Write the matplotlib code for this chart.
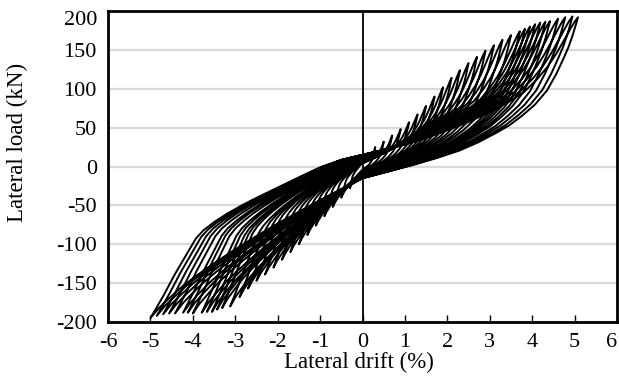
"""Hysteresis curves: lateral load vs lateral drift."""
import matplotlib
matplotlib.use("Agg")
import matplotlib.pyplot as plt
import numpy as np

# peak drift (%) and peak load (kN) of each cycle
pos_peak_drift = [0.3, 0.5, 0.7, 0.9, 1.1, 1.3, 1.5, 1.7, 1.9, 2.1, 2.3, 2.5, 2.7, 2.9,
                  3.1, 3.3, 3.5, 3.71, 3.83, 3.95, 4.07, 4.19, 4.31, 4.42, 4.61, 4.78, 4.95, 5.08]
pos_peak_load = [25, 32, 40, 48, 57, 67, 78, 90, 102, 114, 124, 133, 141, 149,
                 156, 163, 169, 174, 177, 180, 183, 185, 186, 187, 190, 192, 193, 192]
neg_peak_drift = [-0.3, -0.5, -0.7, -0.9, -1.1, -1.3, -1.5, -1.7, -1.9, -2.1, -2.3, -2.5, -2.7, -2.9,
                  -3.12, -3.31, -3.43, -3.55, -3.67, -3.79, -4.0, -4.12, -4.23, -4.42, -4.56, -4.7, -4.85, -5.0]
neg_peak_load = [-28, -40, -52, -64, -76, -88, -100, -110, -120, -130, -139, -147, -157, -168,
                 -180, -182, -184, -187, -187, -188, -189, -188, -188, -189, -189, -190, -192, -195]
# load where the curves cross zero drift (kN)
crossing_load = [4, 5, 5, 6, 6, 7, 7, 8, 8, 9, 9, 10, 10, 11,
                 11, 12, 12, 12, 13, 13, 13, 14, 14, 14, 15, 15, 15, 15]

# branch shapes as fractions of the cycle peak (drift fraction, load fraction)
load_pos_x = [0, 0.1, 0.2, 0.3, 0.4, 0.5, 0.6, 0.68, 0.75, 0.81, 0.86, 0.9, 0.935, 0.965, 0.985, 1.0]
load_pos_y = [0, 0.04, 0.085, 0.14, 0.2, 0.265, 0.34, 0.41, 0.48, 0.57, 0.66, 0.75, 0.84, 0.92, 0.97, 1.0]
unload_pos_x = [1.0, 0.99, 0.975, 0.955, 0.93, 0.9, 0.856, 0.8, 0.74, 0.68, 0.62, 0.54, 0.45,
                0.35, 0.25, 0.12, 0]
unload_pos_y = [1.0, 0.95, 0.88, 0.8, 0.72, 0.63, 0.52, 0.43, 0.36, 0.3, 0.255, 0.2, 0.15,
                0.11, 0.075, 0.035, 0]
load_neg_x = [0, 0.1, 0.2, 0.3, 0.4, 0.5, 0.6, 0.7, 0.78, 0.85, 0.91, 0.96, 1.0]
load_neg_y = [0, 0.08, 0.16, 0.245, 0.33, 0.42, 0.515, 0.615, 0.7, 0.78, 0.86, 0.93, 1.0]
unload_neg_x = [1.0, 0.94, 0.885, 0.82, 0.785, 0.75, 0.7, 0.64, 0.57, 0.5, 0.4, 0.3, 0.2, 0.1, 0]
unload_neg_y = [1.0, 0.86, 0.72, 0.57, 0.49, 0.44, 0.39, 0.34, 0.29, 0.245, 0.185, 0.125,
                0.067, 0.025, 0]

x_ticks = [-6, -5, -4, -3, -2, -1, 0, 1, 2, 3, 4, 5, 6]
y_ticks = [-200, -150, -100, -50, 0, 50, 100, 150, 200]


def branch(fx, fy, peak_d, peak_f, offset):
    fx = np.asarray(fx)
    fy = np.asarray(fy)
    return peak_d * fx, peak_f * fy + offset * (1 - fx)


xs, ys = [], []
for dp, fp, dn, fn, c in zip(pos_peak_drift, pos_peak_load, neg_peak_drift,
                             neg_peak_load, crossing_load):
    for fx, fy, d, f, off in ((load_pos_x, load_pos_y, dp, fp, c),
                              (unload_pos_x, unload_pos_y, dp, fp, -c),
                              (load_neg_x, load_neg_y, dn, fn, -c),
                              (unload_neg_x, unload_neg_y, dn, fn, c)):
        bx, by = branch(fx, fy, d, f, off)
        xs.append(bx)
        ys.append(by)
drift = np.concatenate(xs)
load = np.concatenate(ys)

plt.rcParams["font.family"] = ["Liberation Serif", "DejaVu Serif"]
plt.rcParams["axes.unicode_minus"] = False

fig = plt.figure(figsize=(6.19, 3.80), dpi=100)
ax = fig.add_axes([0.1745, 0.1526, 0.8223, 0.8184])

ax.plot(drift, load, color="black", lw=1.4, solid_joinstyle="round", zorder=3)
ax.axvline(0, color="black", lw=1.3, zorder=2)

ax.set_xlim(-6, 6)
ax.set_ylim(-200, 200)
ax.set_xticks(x_ticks)
ax.set_yticks(y_ticks)
ax.yaxis.grid(True, color="#d9d9d9", lw=1.6)
ax.set_axisbelow(True)
ax.tick_params(axis="x", direction="in", length=5, width=1, pad=8, labelsize=16)
ax.tick_params(axis="y", length=0, pad=8, labelsize=16)
ax.get_xticklabels()[-1].set_horizontalalignment("right")
ax.get_yticklabels()[-1].set_verticalalignment("top")
for s in ax.spines.values():
    s.set_linewidth(2)
    s.set_zorder(4)

ax.set_xlabel("Lateral drift (%)", fontsize=16.5)
ax.set_ylabel("Lateral load (kN)", fontsize=16.5)
ax.xaxis.set_label_coords(0.492, -0.096)
ax.yaxis.set_label_coords(-0.157, 0.579)

fig.savefig("out.png", dpi=100)
